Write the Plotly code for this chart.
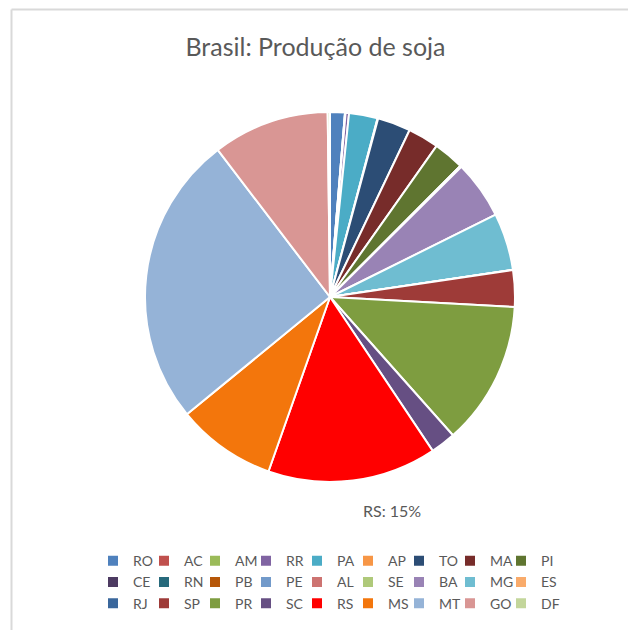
import plotly.graph_objects as go

states = ["RO", "AC", "AM", "RR", "PA", "AP", "TO", "MA", "PI",
          "CE", "RN", "PB", "PE", "AL", "SE", "BA", "MG", "ES",
          "RJ", "SP", "PR", "SC", "RS", "MS", "MT", "GO", "DF"]
production = [1.3, 0.0, 0.05, 0.3, 2.5, 0.05, 2.9, 2.7, 2.7,
              0.0, 0.0, 0.0, 0.0, 0.05, 0.05, 5.1, 5.0, 0.0,
              0.02, 3.2, 12.6, 2.2, 14.8, 8.7, 25.6, 10.2, 0.2]
labelled = ["RS"]

colors = ["#4F81BD", "#C0504D", "#9BBB59", "#8064A2", "#4BACC6", "#F79646", "#2C4D75", "#772C2A", "#5F7530",
          "#4D3B62", "#276A7C", "#B65708", "#729ACA", "#CD7371", "#AFC97A", "#9983B5", "#6FBDD1", "#F9AB6B",
          "#3A679C", "#9E3B38", "#7E9D40", "#664F83", "#FF0000", "#F3760C", "#95B3D7", "#D99694", "#C3D69B"]

# page body has an 8px margin: figure drawn at 620x622 so it fills the 636x638 window
W, H = 620, 622
ML, MR = 75, 75
PW = W - ML - MR
CX, CY, R = 322, 289, 185
NBSP = "\u00a0"

fig = go.Figure(go.Pie(
    labels=states,
    values=production,
    sort=False,
    direction="clockwise",
    rotation=0,
    marker=dict(colors=colors, line=dict(color="white", width=2)),
    texttemplate=NBSP + "<br>%{label}: %{percent:.0%}",
    textposition=["outside" if s in labelled else "none" for s in states],
    outsidetextfont=dict(family="Lato", size=16, color="#595959"),
    domain=dict(x=[(CX - R - ML) / PW, (CX + R - ML) / PW],
                y=[1 - (CY + R) / H, 1 - (CY - R) / H]),
    hoverinfo="label+percent",
    automargin=False,
))

fig.update_layout(
    width=W, height=H,
    autosize=False,
    margin=dict(l=ML, r=MR, t=0, b=0, autoexpand=False),
    paper_bgcolor="white",
    plot_bgcolor="white",
    font=dict(family="Lato", color="#595959"),
    title=dict(text="Brasil: Produção de soja", x=307.5 / W, xanchor="center",
               y=1 - 39 / H, yanchor="middle",
               font=dict(family="Lato", size=25, color="#595959")),
    showlegend=True,
    legend=dict(orientation="h", x=(85 - ML) / PW, xanchor="left",
                y=1 - 532 / H, yanchor="top",
                entrywidth=6, entrywidthmode="pixels",
                bgcolor="rgba(0,0,0,0)",
                title=dict(text=NBSP * 700, side="top", font=dict(size=4)),
                font=dict(family="Lato", size=14, color="#595959"),
                traceorder="normal"),
    shapes=[
        dict(type="line", xref="paper", yref="paper",
             x0=(3.5 - ML) / PW, x1=(W - ML) / PW, y0=1 - 1.5 / H, y1=1 - 1.5 / H,
             line=dict(color="#D9D9D9", width=2)),
        dict(type="line", xref="paper", yref="paper",
             x0=(3.5 - ML) / PW, x1=(3.5 - ML) / PW, y0=1 - 1.5 / H, y1=0,
             line=dict(color="#D9D9D9", width=2)),
    ],
)

fig.write_html("out.html")
